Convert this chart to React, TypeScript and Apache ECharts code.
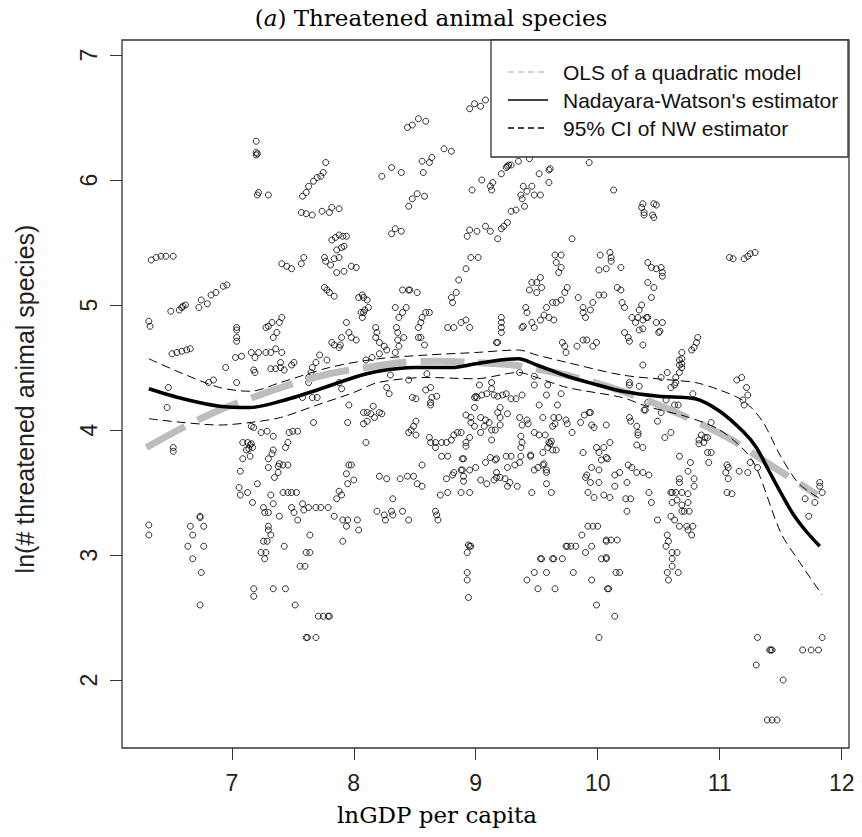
import React, { useEffect, useRef } from "react";
import * as echarts from "echarts";

// ---------- data ----------
const xTicks = [7, 8, 9, 10, 11, 12];
const yTicks = [2, 3, 4, 5, 6, 7];

const ptsWest = [
  [6.32,4.87],[6.33,4.83],[6.34,5.36],[6.38,5.38],[6.42,5.39],[6.46,5.39],[6.52,5.39],
  [6.32,3.24],[6.32,3.16],
  [6.5,4.95],[6.57,4.96],[6.59,4.98],[6.6,4.99],[6.62,5.0],[6.73,4.98],[6.75,5.04],[6.8,5.01],[6.83,5.08],[6.87,5.1],[6.93,5.15],[6.96,5.16],
  [6.51,4.61],[6.55,4.62],[6.59,4.63],[6.63,4.64],[6.66,4.65],
  [6.48,4.34],[6.47,4.18],[6.81,4.38],[6.85,4.4],[6.95,4.5],[7.04,4.38],
  [7.03,4.58],[7.08,4.59],[7.04,4.8],[7.04,4.82],[7.04,4.74],[7.04,4.71],
  [6.52,3.86],[6.52,3.83],[6.74,3.31],[6.74,3.3],[6.66,3.23],[6.77,3.23],[6.68,3.16],[6.64,3.07],[6.77,3.07],[6.68,2.97],[6.75,2.86],[6.74,2.6]
];

const ptsUpperLeft = [
  [7.16,4.62],[7.19,4.58],[7.18,4.48],[7.19,4.46],[7.22,4.62],[7.28,4.62],[7.32,4.62],[7.36,4.65],[7.41,4.62],[7.32,4.49],[7.36,4.49],[7.4,4.54],[7.4,4.5],[7.43,4.48],[7.49,4.52],[7.51,4.54],
  [7.28,4.82],[7.3,4.83],[7.33,4.86],[7.34,4.74],[7.37,4.78],[7.39,4.86],[7.41,4.9],
  [7.2,6.31],[7.2,6.2],[7.2,6.22],[7.21,6.21],[7.22,5.9],[7.21,5.88],[7.3,5.88],
  [7.77,6.14],[7.75,6.06],[7.73,6.03],[7.7,6.02],[7.67,5.99],[7.63,5.95],[7.61,5.9],[7.58,5.87],
  [7.57,5.74],[7.61,5.73],[7.66,5.72],[7.74,5.75],[7.8,5.74],[7.82,5.78],[7.88,5.77],
  [7.82,5.52],[7.85,5.54],[7.88,5.56],[7.91,5.55],[7.94,5.55],[7.86,5.44],[7.9,5.46],[7.92,5.47],
  [7.88,5.38],[7.84,5.37],[7.81,5.32],[7.86,5.26],[7.92,5.27],[7.98,5.31],[8.02,5.3],[7.76,5.38],[7.77,5.35],
  [7.41,5.33],[7.45,5.31],[7.49,5.29],[7.57,5.33],[7.59,5.38],
  [7.76,5.14],[7.78,5.12],[7.8,5.1],[7.84,5.07],
  [7.94,4.86],[7.96,4.78],[7.98,4.74],[8.02,4.72],[7.9,4.74],[7.89,4.68],[7.84,4.68],[8.06,4.94],[8.08,4.94],
  [7.78,4.56],[7.72,4.6],[7.69,4.54],[7.66,4.5],[7.65,4.46],[7.63,4.42],
  [8.04,5.06],[8.08,5.06],[7.88,4.66],[7.82,4.7],[7.63,4.38],[7.88,4.38],[7.9,4.33],[7.66,4.26],[7.58,4.26],[7.7,4.26]
];

const ptsLowerLeft = [
  [7.09,3.9],[7.13,3.9],[7.16,3.89],[7.17,3.86],[7.14,3.85],[7.15,3.88],[7.12,3.84],[7.15,3.79],[7.09,3.77],[7.07,3.67],[7.06,3.54],[7.07,3.48],[7.13,3.5],[7.21,3.57],[7.17,3.42],
  [7.16,4.03],[7.18,4.02],[7.24,3.98],[7.29,3.99],[7.34,3.95],
  [7.47,3.98],[7.5,3.99],[7.54,3.99],[7.46,3.9],[7.44,3.86],
  [7.34,3.84],[7.33,3.81],[7.3,3.77],[7.3,3.7],[7.38,3.71],[7.39,3.73],[7.42,3.72],[7.46,3.72],[7.38,3.66],[7.35,3.62],
  [7.32,3.48],[7.34,3.41],[7.26,3.38],[7.27,3.34],[7.3,3.34],[7.39,3.31],
  [7.42,3.5],[7.46,3.5],[7.49,3.5],[7.53,3.5],
  [7.3,3.23],[7.3,3.2],[7.32,3.16],[7.29,3.11],[7.26,3.11],[7.24,3.02],[7.28,3.02],[7.27,2.97],
  [7.43,3.07],
  [7.18,2.73],[7.18,2.67],[7.34,2.73],[7.44,2.73],[7.52,2.6],
  [7.71,2.51],[7.75,2.51],[7.79,2.51],[7.8,2.51],
  [7.61,2.34],[7.62,2.34],[7.69,2.34],
  [7.49,3.38],[7.51,3.34],[7.54,3.28],[7.58,3.41],[7.59,3.36],[7.63,3.38],[7.69,3.38],[7.73,3.38],[7.79,3.38],
  [7.64,3.16],[7.61,3.02],[7.64,3.02],[7.56,2.91],[7.6,2.91],
  [7.84,3.31],[7.91,3.28],[7.95,3.28],[8.03,3.28],[7.94,3.23],[8.04,3.2],[7.91,3.11],
  [7.86,3.45],[7.9,3.48],[7.88,3.51],[7.95,3.57],[7.94,3.65],[7.98,3.72],[7.96,3.72],[8.0,3.6],[7.96,4.2],[7.95,4.06],[7.67,4.06],
  [8.08,4.14],[8.08,4.05],[8.1,3.9]
];

const ptsUpperMid = [
  [8.95,6.57],[8.99,6.61],[9.04,6.59],[9.08,6.64],
  [8.44,6.42],[8.48,6.44],[8.53,6.49],[8.59,6.47],
  [8.74,6.25],[8.8,6.23],
  [8.56,6.15],[8.62,6.14],[8.64,6.18],[8.57,6.06],
  [8.23,6.03],[8.31,6.1],[8.39,6.06],
  [8.45,5.79],[8.48,5.85],[8.52,5.89],[8.58,5.87],
  [8.31,5.57],[8.34,5.61],[8.39,5.59],
  [8.97,5.92],[9.05,6.0],[9.12,5.95],[9.14,5.98],[9.13,5.92],[9.21,6.05],[9.25,6.1],[9.26,6.11],[9.27,6.12],[9.29,6.12],[9.35,6.15],[9.44,6.17],[9.52,6.05],[9.6,6.08],[9.61,6.09],[9.6,5.98],
  [9.37,5.88],[9.39,5.95],[9.42,5.91],[9.46,5.95],[9.48,5.88],[9.53,5.88],[9.4,5.79],[9.38,5.85],[9.33,5.76],[9.29,5.75],[9.26,5.66],[9.23,5.63],[9.21,5.61],[9.18,5.53],[9.12,5.59],[9.08,5.63],
  [8.95,5.6],[8.93,5.55],[9.01,5.59],
  [8.96,5.38],[9.02,5.38],[8.92,5.29],[8.86,5.2],[8.84,5.1],[8.8,5.06],[8.81,5.02],[8.82,4.82],[8.88,4.86],[8.92,4.88],[8.95,4.82],[8.77,4.82],
  [8.4,5.12],[8.45,5.12],[8.46,5.12],[8.52,5.1],
  [8.34,4.98],[8.4,4.94],[8.43,4.98],[8.37,4.9],[8.59,4.94],[8.62,4.94],[8.56,4.9],[8.55,4.86],[8.53,4.82],[8.53,4.74],[8.55,4.74],[8.58,4.68],
  [8.35,4.82],[8.36,4.78],[8.36,4.72],[8.37,4.67],[8.34,4.62],
  [8.18,4.82],[8.19,4.78],[8.18,4.74],[8.21,4.7],[8.25,4.67],[8.27,4.64],[8.21,4.61],[8.15,4.58],[8.1,4.56],
  [8.07,5.08],[8.11,5.04],[8.12,4.98],[8.09,4.96],[8.07,4.9],
  [9.21,4.9],[9.21,4.86],[9.21,4.82],[9.21,4.78],[9.17,4.7],[9.18,4.7],
  [9.38,4.82],[9.39,4.83],[9.46,4.86],[9.48,4.82],[9.53,4.88],[9.56,4.92],[9.6,4.9],[9.64,4.88],[9.58,4.98],[9.63,5.02],[9.66,5.02],[9.7,5.04],[9.73,5.1],[9.75,5.14],[9.41,4.98],[9.42,4.94],
  [9.44,5.12],[9.46,5.18],[9.5,5.18],[9.53,5.22],[9.5,5.1],[9.54,5.14],
  [9.65,5.4],[9.7,5.4],[9.66,5.34],[9.7,5.3],[9.68,5.26],[9.79,5.53],
  [9.84,5.06],[9.88,4.98],[9.88,4.94],[9.9,4.9],[9.94,4.96],[9.96,5.02],[10.01,5.08],[10.02,5.4],[10.01,5.28],
  [9.88,4.72],[9.91,4.72],[9.99,4.7],[9.96,4.67],
  [9.71,4.7],[9.73,4.67],[9.74,4.62],[9.83,4.67],
  [8.41,4.74],[9.93,6.14],[8.45,4.4],[8.3,4.44],[8.6,4.45],[9.36,4.46],[9.48,4.43]
];

const ptsLowerMid = [
  [8.27,4.34],[8.29,4.29],[8.16,4.19],[8.21,4.14],[8.23,4.13],[8.11,4.14],[8.17,4.1],[8.11,4.07],[8.14,4.13],
  [8.48,4.26],[8.51,4.25],[8.59,4.32],[8.63,4.34],[8.64,4.26],[8.63,4.22],[8.63,4.2],[8.68,4.27],
  [8.51,4.07],[8.49,4.03],[8.45,3.98],[8.47,4.0],[8.51,3.96],
  [8.62,3.94],[8.63,3.9],[8.67,3.9],[8.67,3.86],[8.72,3.9],[8.76,3.9],[8.8,3.92],[8.82,3.96],[8.85,3.98],[8.88,3.98],
  [8.72,3.79],[8.77,3.79],[8.89,3.77],[8.9,3.77],[8.92,3.9],[8.95,3.94],[8.92,3.87],
  [8.56,3.72],
  [8.21,3.63],[8.27,3.61],[8.38,3.61],[8.44,3.63],[8.49,3.63],[8.52,3.57],[8.56,3.55],
  [8.76,3.61],[8.81,3.64],[8.82,3.66],[8.88,3.68],[8.89,3.68],[8.9,3.63],[8.9,3.59],[8.95,3.68],[9.0,3.7],
  [8.71,3.48],[8.77,3.5],[8.88,3.5],[8.95,3.5],
  [8.32,3.45],[8.19,3.35],[8.25,3.32],[8.26,3.28],[8.31,3.35],[8.32,3.32],[8.4,3.35],[8.45,3.28],[8.67,3.35],[8.68,3.32],[8.69,3.28],
  [8.95,3.07],[8.96,3.07],[8.94,3.08],[8.93,3.02],[8.93,2.86],[8.93,2.8],[8.94,2.66],
  [9.04,3.6],[9.09,3.57],[9.08,3.74],[9.12,3.78],[9.15,3.6],[9.17,3.62],[9.16,3.76],[9.17,3.77],[9.17,3.66],[9.2,3.62],[9.24,3.61],[9.28,3.58],[9.26,3.55],[9.34,3.55],[9.25,3.79],[9.29,3.79],[9.26,3.7],[9.32,3.72],[9.36,3.74],[9.37,3.79],[9.45,3.79],[9.46,3.5],[9.48,3.68],[9.51,3.7],[9.55,3.72],[9.56,3.73],[9.58,3.68],[9.58,3.66],[9.58,3.57],[9.62,3.5],
  [8.99,4.26],[9.0,4.27],[9.01,4.26],[8.99,4.18],[8.96,4.1],[8.96,4.06],[8.99,4.03],[9.04,3.98],[9.03,4.36],[9.05,4.28],[9.09,4.29],[9.15,4.28],[9.13,4.33],[9.13,4.38],[8.92,4.12],[9.04,4.1],[9.08,4.08],[9.11,4.06],[9.13,4.0],[9.07,4.03],[9.13,3.92],[9.16,4.0],[9.2,4.04],[9.2,4.1],[9.2,4.18],[9.18,4.14],[9.18,4.27],[9.22,4.28],[9.25,4.29],[9.26,4.13],[9.29,4.25],[9.33,4.25],[9.38,4.28],[9.36,4.1],[9.38,4.04],[9.42,4.08],[9.43,4.05],[9.37,3.95],[9.38,3.9],[9.37,3.86],[9.45,3.8],[9.48,3.98],[9.52,3.96],[9.57,3.96],[9.52,4.2],[9.55,4.1],[9.58,4.28],[9.48,4.36],[9.59,4.36],[9.67,4.2],[9.64,4.1],[9.63,4.03],[9.65,4.05],[9.68,4.1],[9.7,4.29],[9.74,4.08],[9.79,3.98],[9.75,4.05],[9.6,3.9],[9.61,3.89],[9.62,3.91],[9.59,3.86],[9.55,3.82],[9.63,3.84],[9.66,3.84],
  [9.86,4.06],[9.89,4.12],[9.93,4.14],[9.94,4.14],[9.95,4.04],[9.97,4.02],[9.99,3.86],[10.01,3.82],[10.03,3.76],[10.07,3.78],[10.05,3.86],[9.88,3.82],[9.95,3.7],[9.91,3.64],[9.9,3.62],[9.94,3.58],[10.01,3.58],[9.92,3.5],[9.97,3.46],[10.05,3.48],[10.01,3.68],
  [9.92,3.23],[9.96,3.23],[10.0,3.23],[9.87,3.16],[9.95,3.07],[9.9,3.02],[10.07,3.11],[10.03,2.97],[10.07,2.97],
  [9.74,3.07],[9.75,3.07],[9.78,3.07],[9.82,3.07],
  [9.53,2.97],[9.54,2.97],[9.63,2.97],[9.64,2.97],[9.71,2.97],
  [9.48,2.86],[9.58,2.86],[9.8,2.86],[9.42,2.8],[9.51,2.73],[9.65,2.73],[9.95,2.8],[10.08,2.73],[9.99,2.6],[10.01,2.34]
];

const ptsUpperRight = [
  [10.13,5.92],[10.37,5.81],[10.36,5.78],[10.38,5.74],[10.38,5.72],[10.46,5.81],[10.48,5.8],[10.45,5.72],[10.46,5.7],
  [11.08,5.38],[11.11,5.37],[11.2,5.37],[11.23,5.39],[11.25,5.41],[11.29,5.42],
  [10.1,5.42],[10.11,5.38],[10.11,5.35],[10.07,5.29],[10.19,5.3],
  [10.41,5.34],[10.44,5.3],[10.48,5.29],[10.52,5.3],[10.53,5.26],[10.53,5.23],
  [10.41,5.18],[10.46,5.14],[10.44,5.06],
  [10.16,5.14],[10.19,5.12],[10.05,5.08],[10.2,5.02],[10.22,4.98],[10.36,5.0],[10.34,4.96],[10.4,4.9],[10.41,4.9],[10.28,4.9],[10.31,4.86],[10.33,4.9],[10.37,4.88],[10.48,4.86],[10.53,4.86],[10.5,4.78],[10.51,4.79],[10.34,4.8],[10.37,4.81],[10.22,4.78],[10.25,4.74],[10.26,4.71],[10.37,4.68],[10.37,4.52],
  [10.69,4.62],[10.67,4.56],[10.69,4.57],[10.67,4.52],[10.69,4.53],[10.69,4.5],[10.67,4.46],[10.64,4.42],[10.64,4.38],[10.63,4.36],[10.6,4.34],[10.77,4.64],[10.79,4.66],[10.81,4.7],[10.82,4.74],
  [10.52,4.42],[10.57,4.46],[10.26,4.38],[10.26,4.36],[10.34,4.35],[10.78,4.29],[10.56,4.24],[10.63,4.2],[10.66,4.2],[10.41,4.22],[10.38,4.16],[10.39,4.16],[10.52,4.14],[10.49,4.07],[10.26,4.1],[10.27,4.07],[10.32,4.03],[10.33,3.98],[10.33,3.96],[10.55,3.94],[10.6,3.98],[10.07,4.04],[10.1,3.9],[10.85,3.96],[10.83,3.92],[10.88,3.94],[10.9,3.94],[10.93,4.06],
  [11.14,4.4],[11.18,4.42],[11.22,4.34],[11.23,4.28],[11.19,4.24],[11.2,4.2]
];

const ptsLowerRight = [
  [10.67,3.79],[10.76,3.74],[10.74,3.67],[10.67,3.61],[10.67,3.58],[10.79,3.61],[10.79,3.55],[10.6,3.5],[10.61,3.5],[10.64,3.5],[10.69,3.5],[10.74,3.49],[10.61,3.42],[10.65,3.44],[10.69,3.4],[10.74,3.42],[10.69,3.35],[10.71,3.35],[10.75,3.35],[10.6,3.31],[10.63,3.28],[10.67,3.23],[10.73,3.23],[10.78,3.23],[10.74,3.2],[10.77,3.16],
  [10.57,3.16],[10.58,3.11],[10.56,3.07],[10.61,3.02],[10.65,3.02],[10.61,2.97],[10.61,2.91],[10.57,2.86],[10.66,2.86],[10.58,2.8],
  [10.49,3.28],[10.44,3.42],[10.42,3.5],
  [10.07,3.12],[10.11,3.12],[10.16,3.12],[10.07,2.98],[10.15,2.86],[10.18,2.86],[10.09,2.73],[10.14,2.51],
  [10.14,3.64],[10.18,3.66],[10.14,3.55],[10.24,3.58],[10.23,3.45],[10.27,3.45],[10.24,3.35],[10.1,3.46],[10.42,3.64],[10.37,3.66],[10.32,3.66],[10.28,3.7],[10.25,3.72],[10.08,3.77],[10.32,3.88],[10.37,3.86],
  [11.06,3.72],[11.07,3.7],[11.05,3.66],[11.07,3.61],[11.06,3.5],[11.1,3.49],[11.16,3.67],[11.23,3.66],[11.25,3.74],[11.31,3.7],
  [10.9,3.82],[10.93,3.82],[10.91,3.74],[10.83,3.89],[10.87,3.9],
  [11.82,3.58],[11.82,3.55],[11.84,3.5],[11.7,3.45],[11.78,3.42],[11.73,3.31],
  [11.31,2.34],[11.3,2.12],[11.41,2.24],[11.42,2.24],[11.43,2.24],[11.52,2.0],[11.39,1.68],[11.43,1.68],[11.47,1.68],
  [11.68,2.24],[11.75,2.24],[11.81,2.24],[11.84,2.34]
];

// OLS quadratic fit (grey)
const olsX = [6.3, 6.6, 6.9, 7.2, 7.5, 7.8, 8.1, 8.4, 8.7, 9.0, 9.3, 9.6, 9.9, 10.2, 10.5, 10.8, 11.1, 11.4, 11.8];
const olsY = [3.86, 4.02, 4.16, 4.27, 4.37, 4.45, 4.5, 4.54, 4.55, 4.54, 4.52, 4.47, 4.4, 4.31, 4.2, 4.07, 3.92, 3.73, 3.48];

// Nadaraya-Watson estimator (black solid)
const nwX = [6.32, 6.6, 6.9, 7.15, 7.4, 7.7, 8.0, 8.2, 8.5, 8.8, 9.0, 9.2, 9.35, 9.5, 9.75, 10.0, 10.2, 10.5, 10.8, 11.0, 11.2, 11.3, 11.4, 11.5, 11.6, 11.7, 11.82];
const nwY = [4.33, 4.25, 4.19, 4.18, 4.23, 4.32, 4.42, 4.47, 4.5, 4.5, 4.53, 4.56, 4.57, 4.52, 4.43, 4.36, 4.31, 4.27, 4.25, 4.15, 3.98, 3.86, 3.68, 3.5, 3.33, 3.2, 3.07];

// 95% CI (black dashed)
const upX = [6.32, 6.6, 6.9, 7.15, 7.4, 7.8, 8.2, 8.6, 9.0, 9.35, 9.5, 9.75, 10.2, 10.6, 10.8, 11.0, 11.2, 11.35, 11.5, 11.65, 11.84];
const upY = [4.57, 4.45, 4.34, 4.31, 4.38, 4.5, 4.57, 4.6, 4.62, 4.64, 4.6, 4.54, 4.44, 4.4, 4.38, 4.32, 4.23, 4.07, 3.79, 3.57, 3.44];
const loX = [6.32, 6.6, 6.9, 7.15, 7.4, 7.7, 8.0, 8.2, 8.6, 9.0, 9.35, 9.5, 9.75, 10.2, 10.4, 10.75, 11.0, 11.2, 11.3, 11.5, 11.65, 11.84];
const loY = [4.09, 4.06, 4.04, 4.06, 4.1, 4.2, 4.3, 4.38, 4.42, 4.41, 4.46, 4.42, 4.34, 4.26, 4.19, 4.1, 4.0, 3.84, 3.7, 3.18, 2.95, 2.68];

const legendLabels = ["OLS of a quadratic model", "Nadayara-Watson's estimator", "95% CI of NW estimator"];

const zip = (xs: number[], ys: number[]) => xs.map((x, i) => [x, ys[i]]);

export default function App() {
  const ref = useRef<HTMLDivElement>(null);
  useEffect(() => {
    if (!ref.current) return;
    const chart = echarts.init(ref.current, null, { renderer: "svg" });
    const points = [
      ...ptsWest, ...ptsUpperLeft, ...ptsLowerLeft, ...ptsUpperMid,
      ...ptsLowerMid, ...ptsUpperRight, ...ptsLowerRight,
    ];
    const sans = "Liberation Sans, Arial, sans-serif";
    const serif = "DejaVu Serif, serif";
    const lx1 = 508, lx2 = 548, ltx = 563;
    const rowsY = [72, 100, 128];
    chart.setOption({
      animation: false,
      backgroundColor: "#ffffff",
      title: {
        text: "({it|a}) Threatened animal species",
        left: "center",
        top: 1,
        textStyle: {
          fontFamily: serif, fontSize: 23, fontWeight: "normal", color: "#000",
          rich: { it: { fontFamily: serif, fontSize: 23, fontStyle: "italic", color: "#000" } },
        },
      },
      grid: {
        left: 122, right: 13, top: 40, bottom: 89,
        show: true, borderColor: "#333", borderWidth: 1.3, backgroundColor: "transparent",
      },
      xAxis: {
        type: "value", min: 6.1, max: 12.06,
        axisLine: { show: false },
        splitLine: { show: false },
        axisTick: { show: true, inside: false, length: 12, customValues: xTicks, lineStyle: { color: "#333", width: 1 } },
        axisLabel: { customValues: xTicks, margin: 23, fontSize: 23, fontFamily: sans, color: "#222" },
      },
      yAxis: {
        type: "value", min: 1.456, max: 7.12,
        axisLine: { show: false },
        splitLine: { show: false },
        axisTick: { show: true, inside: false, length: 12, customValues: yTicks, lineStyle: { color: "#333", width: 1 } },
        axisLabel: { customValues: yTicks, margin: 22, rotate: 90, fontSize: 23, fontFamily: sans, color: "#222" },
      },
      series: [
        {
          type: "scatter", data: points, symbol: "circle", symbolSize: 6, silent: true, z: 2,
          itemStyle: { color: "rgba(0,0,0,0)", borderColor: "#000", borderWidth: 1 },
        },
        {
          type: "line", data: zip(olsX, olsY), smooth: 0.3, showSymbol: false, silent: true, z: 3,
          lineStyle: { color: "#bdbdbd", width: 7, type: [44, 14] },
        },
        {
          type: "line", data: zip(nwX, nwY), smooth: 0.3, showSymbol: false, silent: true, z: 4,
          lineStyle: { color: "#000", width: 3.5 },
        },
        {
          type: "line", data: zip(upX, upY), smooth: 0.3, showSymbol: false, silent: true, z: 4,
          lineStyle: { color: "#000", width: 1, type: [9, 5] },
        },
        {
          type: "line", data: zip(loX, loY), smooth: 0.3, showSymbol: false, silent: true, z: 4,
          lineStyle: { color: "#000", width: 1, type: [9, 5] },
        },
      ],
      graphic: [
        {
          type: "rect", z: 100,
          shape: { x: 491, y: 40, width: 357, height: 117 },
          style: { fill: "#fff", stroke: "#333", lineWidth: 1.3 },
        },
        { type: "line", z: 101, shape: { x1: lx1, y1: rowsY[0], x2: lx2, y2: rowsY[0] }, style: { stroke: "#c8c8c8", lineWidth: 1.5, lineDash: [6, 4] } },
        { type: "line", z: 101, shape: { x1: lx1, y1: rowsY[1], x2: lx2, y2: rowsY[1] }, style: { stroke: "#000", lineWidth: 1.5 } },
        { type: "line", z: 101, shape: { x1: lx1, y1: rowsY[2], x2: lx2, y2: rowsY[2] }, style: { stroke: "#000", lineWidth: 1.5, lineDash: [6, 4] } },
        ...legendLabels.map((t, i) => ({
          type: "text", z: 101, x: ltx, y: rowsY[i],
          style: { text: t, fill: "#111", fontSize: 21, fontFamily: sans, textVerticalAlign: "middle", textAlign: "left" },
        })),
        {
          type: "text", z: 101, x: 437, y: 815,
          style: { text: "lnGDP per capita", fill: "#000", fontSize: 23, fontFamily: serif, textAlign: "center", textVerticalAlign: "middle" },
        },
        {
          type: "text", z: 101, x: 25, y: 399, rotation: Math.PI / 2,
          style: { text: "ln(# threatened animal species)", fill: "#222", fontSize: 25, fontFamily: sans, textAlign: "center", textVerticalAlign: "middle" },
        },
      ],
    });
    return () => chart.dispose();
  }, []);
  return <div ref={ref} style={{ position: "absolute", left: 0, top: 0, width: 862, height: 837 }} />;
}
